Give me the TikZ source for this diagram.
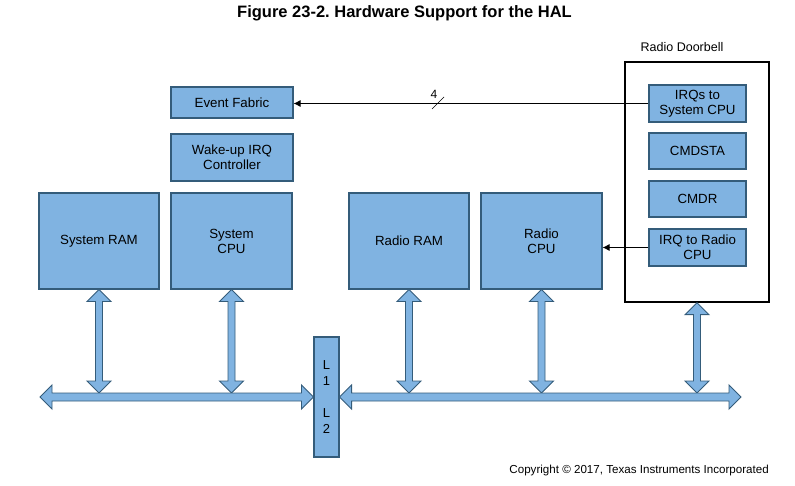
\documentclass[tikz,border=0pt]{standalone}
\usepackage{fontspec}
\setmainfont{Liberation Sans}
\usetikzlibrary{arrows.meta,calc}
\frenchspacing
\definecolor{boxfill}{RGB}{128,179,225}
\definecolor{boxline}{RGB}{52,92,122}
\tikzset{
  blkbox/.style={draw=boxline, line width=1.1pt, fill=boxfill, inner sep=0pt, align=center,
     font=\fontsize{13.3}{15}\selectfont},
  blk/.style={draw=boxline, line width=0.9pt, fill=boxfill, line join=miter},
  sig/.style={draw=black, line width=0.8pt, -{Latex[length=7pt,width=7pt]}},
}
\newcommand\vdarrow[2]{%
  \path let \p1=#1, \p2=#2 in [blk]
   (\x1,\y1) -- (\x1+12pt,\y1-12pt) -- (\x1+3.5pt,\y1-12pt) -- (\x1+3.5pt,\y2+12pt)
   -- (\x1+12pt,\y2+12pt) -- (\x1,\y2) -- (\x1-12pt,\y2+12pt) -- (\x1-3.5pt,\y2+12pt)
   -- (\x1-3.5pt,\y1-12pt) -- (\x1-12pt,\y1-12pt) -- cycle;}
\newcommand\hdarrow[2]{%
  \path let \p1=#1, \p2=#2 in [blk]
   (\x1,\y1) -- (\x1+12pt,\y1+12pt) -- (\x1+12pt,\y1+4pt) -- (\x2-12pt,\y1+4pt)
   -- (\x2-12pt,\y1+12pt) -- (\x2,\y1) -- (\x2-12pt,\y1-12pt) -- (\x2-12pt,\y1-4pt)
   -- (\x1+12pt,\y1-4pt) -- (\x1+12pt,\y1-12pt) -- cycle;}
\begin{document}
\begin{tikzpicture}[x=1pt,y=-1pt]
\useasboundingbox (0,0) rectangle (795,486);
% title
\node[font=\fontsize{16.5}{18}\selectfont\bfseries] (title) at (404.5,13) {Figure 23-2. Hardware Support for the HAL};
% system side
\node[blkbox, minimum width=122pt, minimum height=31pt] (ef) at (232,102.5) {Event Fabric};
\node[blkbox, minimum width=122pt, minimum height=47pt] (wu) at (232,157.5) {Wake-up IRQ\\Controller};
\node[blkbox, minimum width=120pt, minimum height=96pt] (sram) at (99,241) {System RAM};
\node[blkbox, minimum width=121pt, minimum height=96pt] (scpu) at (231.5,241) {System\\CPU};
\node[blkbox, minimum width=120pt, minimum height=96pt] (rram) at (409,241) {Radio RAM};
\node[blkbox, minimum width=121pt, minimum height=96pt] (rcpu) at (541.5,241) {Radio\\CPU};
% doorbell
\node[draw=black, line width=1.4pt, minimum width=144pt, minimum height=240pt, inner sep=0pt] (db) at (697,182) {};
\node[font=\fontsize{12.5}{14}\selectfont] (dblabel) at (682,47) {Radio Doorbell};
\node[blkbox, minimum width=97pt, minimum height=37pt] (irqs) at (697.5,103.5) {IRQs to\\System CPU};
\node[blkbox, minimum width=97pt, minimum height=36pt] (cmdsta) at (697.5,151) {CMDSTA};
\node[blkbox, minimum width=97pt, minimum height=36pt] (cmdr) at (697.5,199) {CMDR};
\node[blkbox, minimum width=97pt, minimum height=37pt] (irqr) at (697.5,247.5) {IRQ to Radio\\CPU};
% signals
\draw[sig] (irqs.west) -- (irqs.west -| ef.east);
\coordinate (slash) at (438,103);
\draw[line width=0.7pt] ($(slash)+(-6,6)$) -- ($(slash)+(6,-6)$);
\node[font=\fontsize{12}{14}\selectfont, inner sep=0pt] (four) at (434,94) {4};
\draw[sig] (irqr.west) -- (irqr.west -| rcpu.east);
% L1 L2
\node[blkbox, minimum width=25pt, minimum height=120pt, font=\fontsize{13}{16}\selectfont] (l12) at (326.5,397) {L\\1\\[16pt]L\\2};
% bus
\coordinate (bustop) at (0,393);
\coordinate (busleft) at (40,397);
\coordinate (busright) at (741,397);
\vdarrow{(sram.south)}{(sram.south |- bustop)}
\vdarrow{(scpu.south)}{(scpu.south |- bustop)}
\vdarrow{(rram.south)}{(rram.south |- bustop)}
\vdarrow{(rcpu.south)}{(rcpu.south |- bustop)}
\vdarrow{(db.south)}{(db.south |- bustop)}
\hdarrow{(busleft)}{(l12.west)}
\hdarrow{(l12.east)}{(busright)}
% copyright
\node[font=\fontsize{11.6}{13}\selectfont, anchor=east, inner sep=0pt] (copy) at (769,470) {Copyright © 2017, Texas Instruments Incorporated};
\end{tikzpicture}
\end{document}
